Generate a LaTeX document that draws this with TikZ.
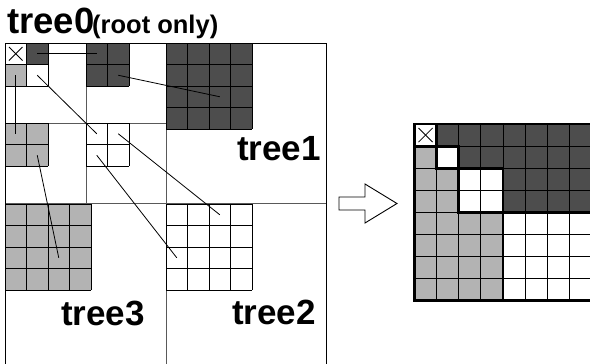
\documentclass[tikz,border=0pt]{standalone}
\usepackage{fontspec}
\setmainfont{Liberation Sans}
\definecolor{darkcell}{HTML}{4D4D4D}
\definecolor{lightcell}{HTML}{B3B3B3}
\tikzset{
  cellline/.style={draw=black, line width=0.8pt},
  partline/.style={draw=black!65, line width=0.8pt},
  outline/.style={draw=black, line width=0.9pt},
  thickline/.style={draw=black, line width=2.8pt, line cap=rect},
  conn/.style={draw=black, line width=0.8pt},
  lbl/.style={font=\bfseries\fontsize{35}{35}\selectfont, anchor=base west, inner sep=0pt},
  hollowarrow/.style={draw=black, line width=0.9pt, fill=white, line join=miter}
}
% #1 x, #2 y, #3 n cells, #4 fill, #5 cell size
\newcommand{\gridblock}[5]{%
  \fill[#4] (#1,#2) rectangle ++(#3*#5,#3*#5);
  \foreach \k in {0,...,#3}{%
    \draw[cellline] (#1+\k*#5,#2) -- ++(0,#3*#5);
    \draw[cellline] (#1,#2+\k*#5) -- ++(#3*#5,0);
  }%
}
\begin{document}
\begin{tikzpicture}[x=1pt,y=-1pt]
\useasboundingbox (0,0) rectangle (590,364);
\def\cs{21.5}
% ---------- title ----------
\node[anchor=base west, inner sep=0pt] (title) at (7,33)
  {\bfseries\fontsize{36.5}{36.5}\selectfont tree0};
\node[anchor=base west, inner sep=0pt] (subtitle) at (92,33)
  {\bfseries\fontsize{25.5}{25.5}\selectfont (root only)};
% ---------- left: partition lines ----------
\draw[partline] (166,43) -- (166,366);
\draw[partline] (5,203.5) -- (326,203.5);
\draw[partline] (86,43) -- (86,203.5);
\draw[partline] (5,123) -- (166,123);
% ---------- blocks ----------
% tree0 root 2x2
\fill[darkcell] (5+\cs,43) rectangle ++(\cs,\cs);
\fill[lightcell] (5,43+\cs) rectangle ++(\cs,\cs);
\gridblock{5}{43}{2}{white,opacity=0}{\cs}
\draw[line width=0.8pt] (5+4,43+4) -- (5+\cs-4,43+\cs-4);
\draw[line width=0.8pt] (5+\cs-4,43+4) -- (5+4,43+\cs-4);
% level-1 blocks
\gridblock{86}{43}{2}{darkcell}{\cs}
\gridblock{5}{123}{2}{lightcell}{\cs}
\gridblock{86}{123}{2}{white}{\cs}
% level-2 blocks
\gridblock{166}{43}{4}{darkcell}{\cs}
\gridblock{5}{204}{4}{lightcell}{\cs}
\gridblock{166}{204}{4}{white}{\cs}
% outer border (bottom beyond the page)
\draw[outline] (5,366) -- (5,43) -- (326,43) -- (326,366);
% ---------- connector end points (cell centres) ----------
\coordinate (r10) at (5+1.5*\cs,43+0.5*\cs);
\coordinate (r01) at (5+0.5*\cs,43+1.5*\cs);
\coordinate (r11) at (5+1.5*\cs,43+1.5*\cs);
\coordinate (d00) at (86+0.5*\cs,43+0.5*\cs);
\coordinate (d11) at (86+1.5*\cs,43+1.5*\cs);
\coordinate (D22) at (166+2.5*\cs,43+2.5*\cs);
\coordinate (l00) at (5+0.5*\cs,123+0.5*\cs);
\coordinate (l11) at (5+1.5*\cs,123+1.5*\cs);
\coordinate (L22) at (5+2.5*\cs,204+2.5*\cs);
\coordinate (w00) at (86+0.5*\cs,123+0.5*\cs);
\coordinate (w10) at (86+1.5*\cs,123+0.5*\cs);
\coordinate (w01) at (86+0.5*\cs,123+1.5*\cs);
\coordinate (W20) at (166+2.5*\cs,204+0.5*\cs);
\coordinate (W02) at (166+0.5*\cs,204+2.5*\cs);
\draw[conn] (r10) -- (d00);
\draw[conn] (d11) -- (D22);
\draw[conn] (r01) -- (l00);
\draw[conn] (l11) -- (L22);
\draw[conn] (r11) -- (w00);
\draw[conn] (w10) -- (W20);
\draw[conn] (w01) -- (W02);
% ---------- labels ----------
\node[lbl] (t1) at (237,160) {tree1};
\node[lbl] (t3) at (61,325) {tree3};
\node[lbl] (t2) at (232,324) {tree2};
% ---------- arrow ----------
\draw[hollowarrow] (339,197) -- (365,197) -- (365,184) -- (397,203.5)
  -- (365,223) -- (365,210) -- (339,210) -- cycle;
% ---------- right matrix ----------
\begin{scope}[shift={(414.5,124)}]
\def\m{22.1}
\fill[lightcell] (0,0) rectangle (8*\m,8*\m);
\fill[darkcell] (1*\m,0) rectangle (8*\m,1*\m);
\fill[darkcell] (2*\m,1*\m) rectangle (8*\m,2*\m);
\fill[darkcell] (4*\m,2*\m) rectangle (8*\m,4*\m);
\fill[white] (0,0) rectangle (1*\m,1*\m);
\fill[white] (1*\m,1*\m) rectangle (2*\m,2*\m);
\fill[white] (2*\m,2*\m) rectangle (4*\m,4*\m);
\fill[white] (4*\m,4*\m) rectangle (8*\m,8*\m);
\foreach \k in {1,...,7}{%
  \draw[cellline] (\k*\m,0) -- (\k*\m,8*\m);
  \draw[cellline] (0,\k*\m) -- (8*\m,\k*\m);
}
\draw[line width=0.8pt] (4,4) -- (\m-4,\m-4);
\draw[line width=0.8pt] (\m-4,4) -- (4,\m-4);
% thick outlines
\draw[thickline] (8*\m,0) -- (0,0) -- (0,8*\m) -- (8*\m,8*\m);
\draw[thickline] (0,0) rectangle (1*\m,1*\m);
\draw[thickline] (1*\m,1*\m) rectangle (2*\m,2*\m);
\draw[thickline] (2*\m,2*\m) rectangle (4*\m,4*\m);
\draw[thickline] (8*\m,4*\m) -- (4*\m,4*\m) -- (4*\m,8*\m);
\end{scope}
\end{tikzpicture}
\end{document}
